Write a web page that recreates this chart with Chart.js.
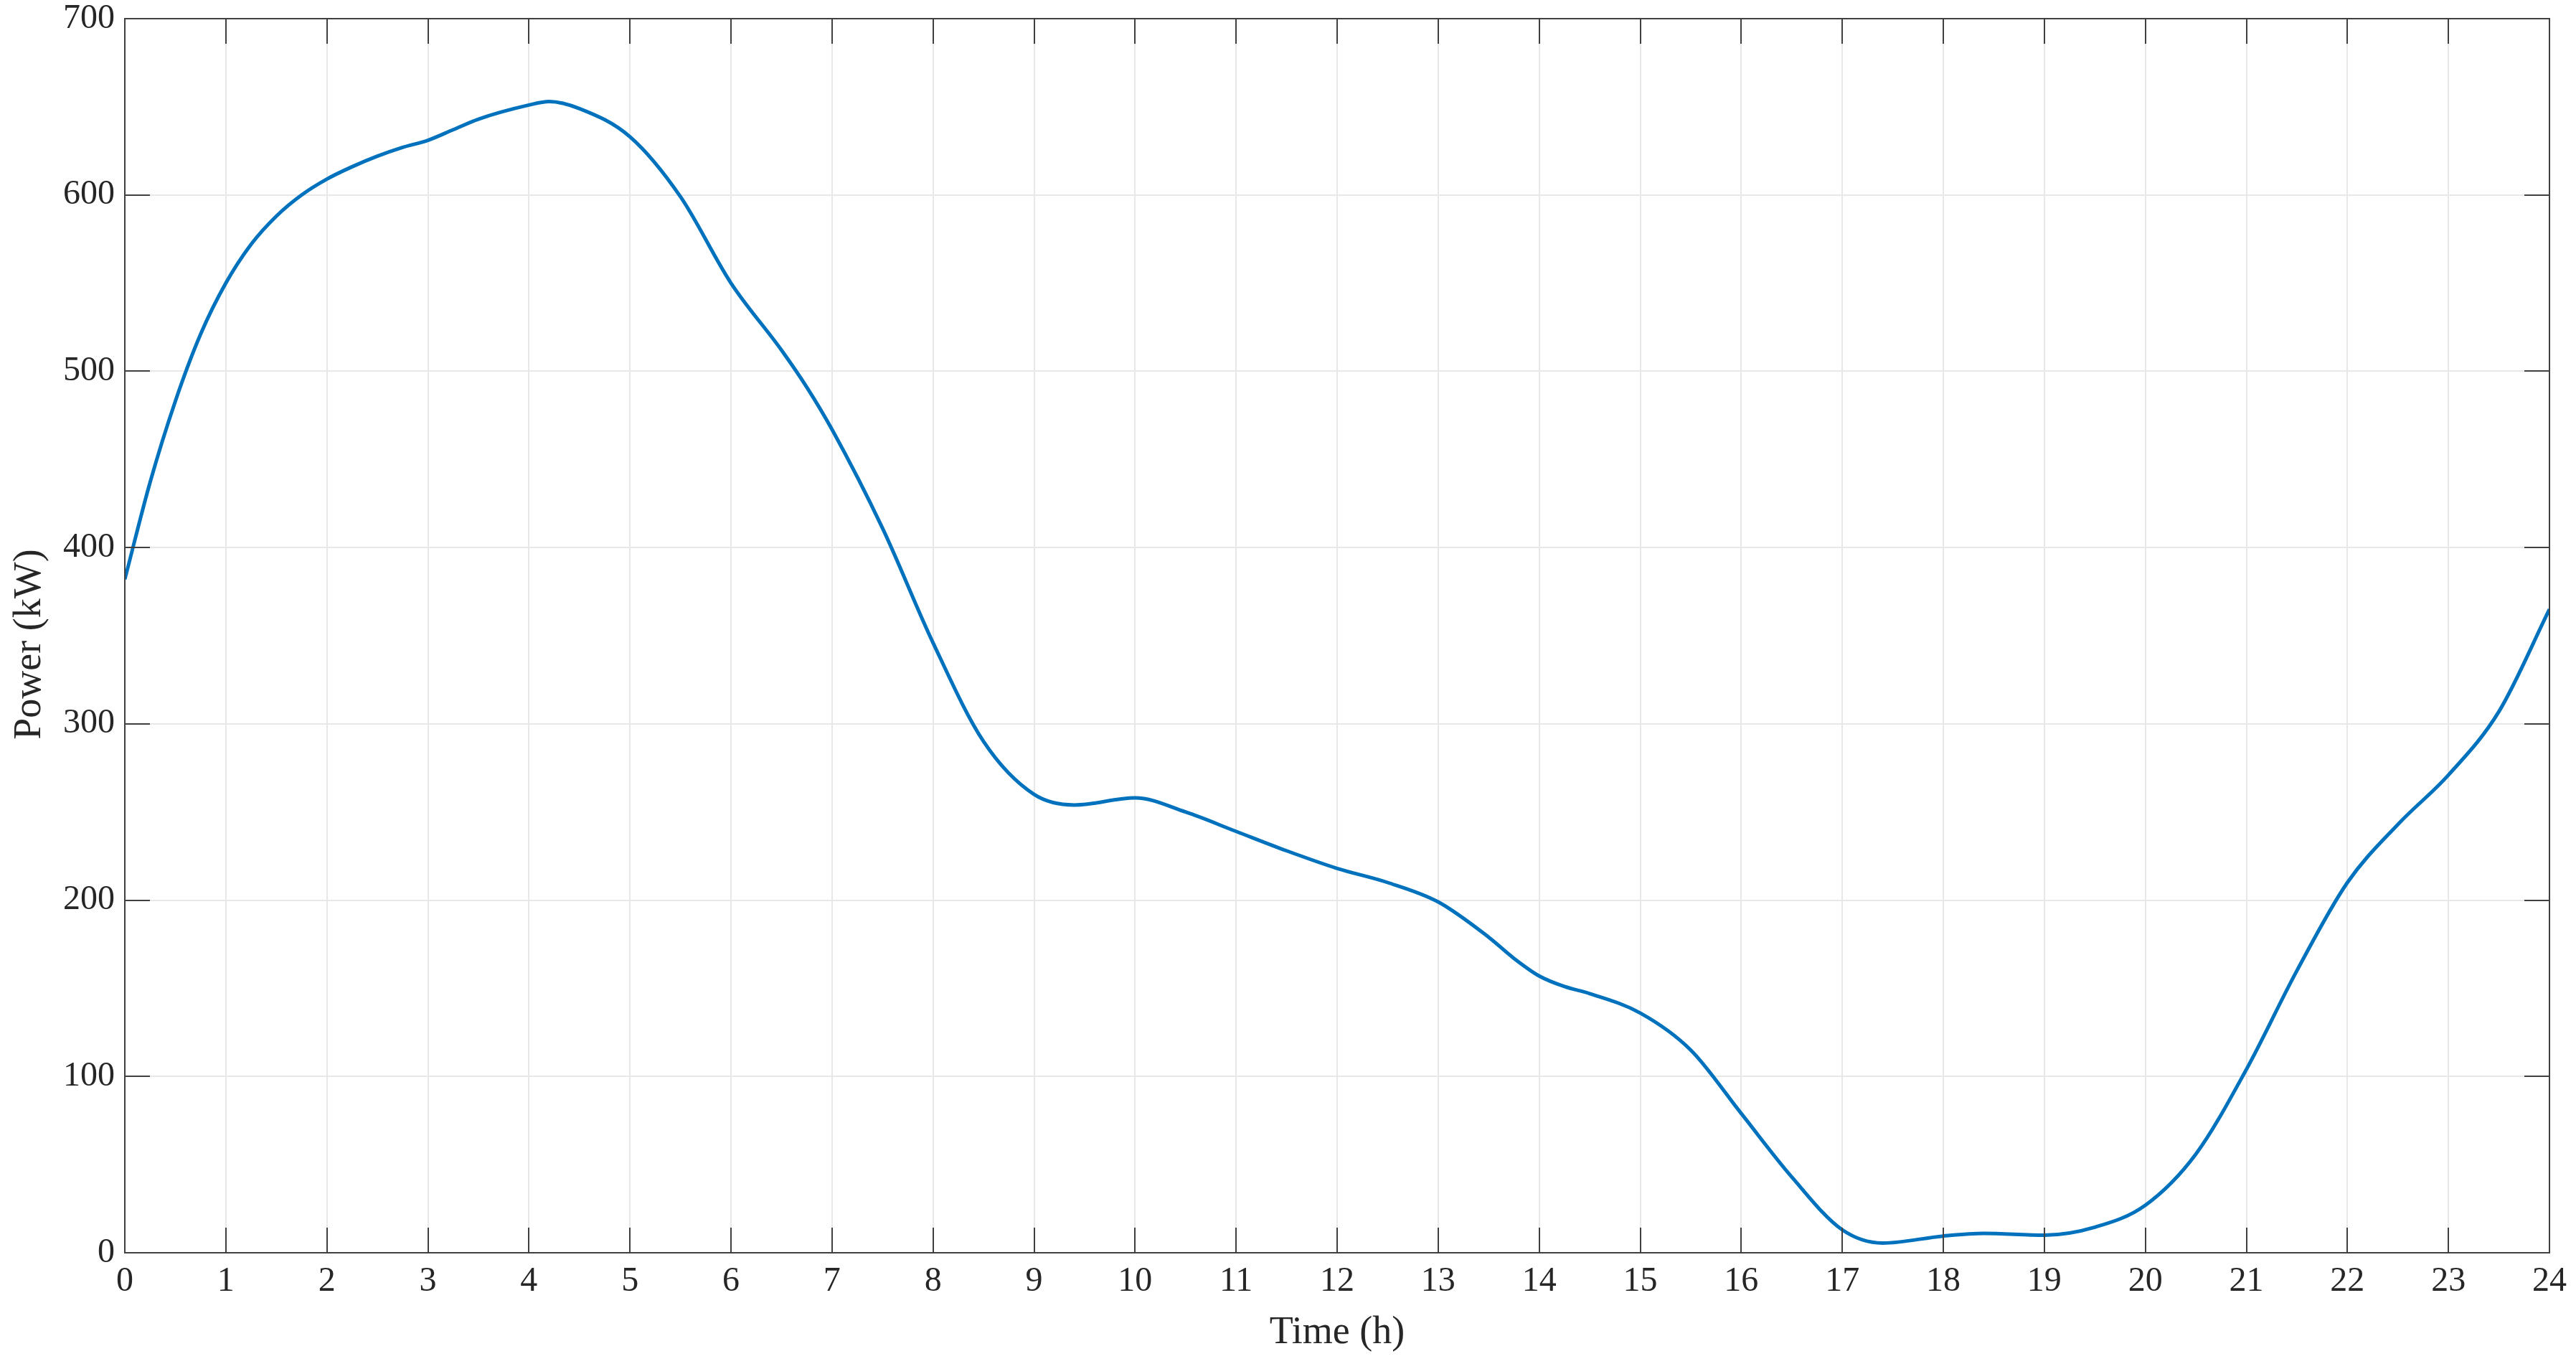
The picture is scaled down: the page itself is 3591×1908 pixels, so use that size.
<!DOCTYPE html>
<html>
<head>
<meta charset="utf-8">
<script src="https://cdn.jsdelivr.net/npm/chart.js@4.4.1/dist/chart.umd.min.js"></script>
<style>
  html, body { margin: 0; padding: 0; background: #ffffff; }
  #c { display: block; }
</style>
</head>
<body>
<canvas id="c" width="3591" height="1908"></canvas>
<script>
// ---- data ----
const hours = [0, 0.25, 0.5, 0.75, 1, 1.25, 1.5, 1.75, 2, 2.25, 2.5, 2.75, 3, 3.25, 3.5, 4, 4.2, 4.5, 5, 5.5, 6,
  6.5, 6.75, 7, 7.5, 8, 8.5, 9, 9.4, 10, 10.5, 11, 11.5, 12, 12.5, 13, 13.5, 13.75, 14, 14.25, 14.5, 15, 15.5, 16,
  16.5, 17, 17.4, 18, 18.4, 19, 19.5, 20, 20.5, 21, 21.5, 22, 22.5, 23, 23.5, 24];
const power = [382, 437, 483, 521, 550, 572, 588, 600, 609, 616, 622, 627, 631, 637, 643, 651, 653, 649, 633, 599, 550,
  512, 491, 467, 411, 346, 290, 260, 254, 258, 250, 239, 228, 218, 210, 199, 179, 167, 157, 151, 147, 136, 115, 79,
  43, 13, 5.5, 9.5, 11, 10, 14.5, 27, 56, 104, 160, 210, 243, 271, 307, 365];
const xTickValues = [0, 24, 1];     // min, max, step
const yTickValues = [0, 700, 100];  // min, max, step
const xTitle = 'Time (h)';
const yTitle = 'Power (kW)';

const points = hours.map((h, i) => ({ x: h, y: power[i] }));

const textColor = '#262626';
const fontFamily = '"Liberation Serif", "DejaVu Serif", serif';

const framePlugin = {
  id: 'frame',
  afterDatasetsDraw(chart) {
    const { ctx, chartArea: a, scales: { x, y } } = chart;
    const len = 35;
    ctx.save();
    ctx.strokeStyle = '#404040';
    ctx.lineWidth = 2;
    ctx.beginPath();
    x.ticks.forEach(t => {
      const px = Math.round(x.getPixelForValue(t.value));
      ctx.moveTo(px, a.bottom); ctx.lineTo(px, a.bottom - len);
      ctx.moveTo(px, a.top); ctx.lineTo(px, a.top + len);
    });
    y.ticks.forEach(t => {
      const py = Math.round(y.getPixelForValue(t.value));
      ctx.moveTo(a.left, py); ctx.lineTo(a.left + len, py);
      ctx.moveTo(a.right, py); ctx.lineTo(a.right - len, py);
    });
    ctx.stroke();
    ctx.strokeRect(a.left, a.top, a.right - a.left, a.bottom - a.top);
    // y-axis title, centred on the reference's axis box
    ctx.fillStyle = textColor;
    ctx.font = '54px ' + fontFamily;
    ctx.textAlign = 'center';
    ctx.textBaseline = 'middle';
    ctx.translate(42, 898);
    ctx.rotate(-Math.PI / 2);
    ctx.fillText(yTitle, 0, 0);
    ctx.restore();
  }
};

new Chart(document.getElementById('c'), {
  type: 'line',
  data: {
    datasets: [{
      data: points,
      borderColor: '#0072BD',
      borderWidth: 5,
      pointRadius: 0,
      fill: false,
      cubicInterpolationMode: 'monotone'
    }]
  },
  options: {
    responsive: false,
    animation: false,
    devicePixelRatio: 1,
    layout: { padding: { left: 0, right: 37, top: 26, bottom: 0 } },
    plugins: { legend: { display: false }, tooltip: { enabled: false } },
    scales: {
      x: {
        type: 'linear',
        min: xTickValues[0], max: xTickValues[1],
        afterFit(scale) { scale.height = 162; scale.paddingLeft = 0; scale.paddingRight = 0; },
        ticks: { stepSize: xTickValues[2], color: textColor, padding: 12,
                 font: { family: fontFamily, size: 48 }, maxRotation: 0, autoSkip: false },
        grid: { color: '#e8e8e8', lineWidth: 2, drawTicks: false },
        border: { display: false },
        title: { display: true, text: xTitle, color: textColor,
                 font: { family: fontFamily, size: 54 }, padding: { top: 0, bottom: 18 } }
      },
      y: {
        type: 'linear',
        min: yTickValues[0], max: yTickValues[1],
        afterFit(scale) { scale.width = 174; scale.paddingTop = 0; scale.paddingBottom = 0; },
        ticks: { stepSize: yTickValues[2], color: textColor, padding: 14,
                 font: { family: fontFamily, size: 48 } },
        grid: { color: '#e8e8e8', lineWidth: 2, drawTicks: false },
        border: { display: false },
        title: { display: false }
      }
    }
  },
  plugins: [framePlugin]
});
</script>
</body>
</html>
